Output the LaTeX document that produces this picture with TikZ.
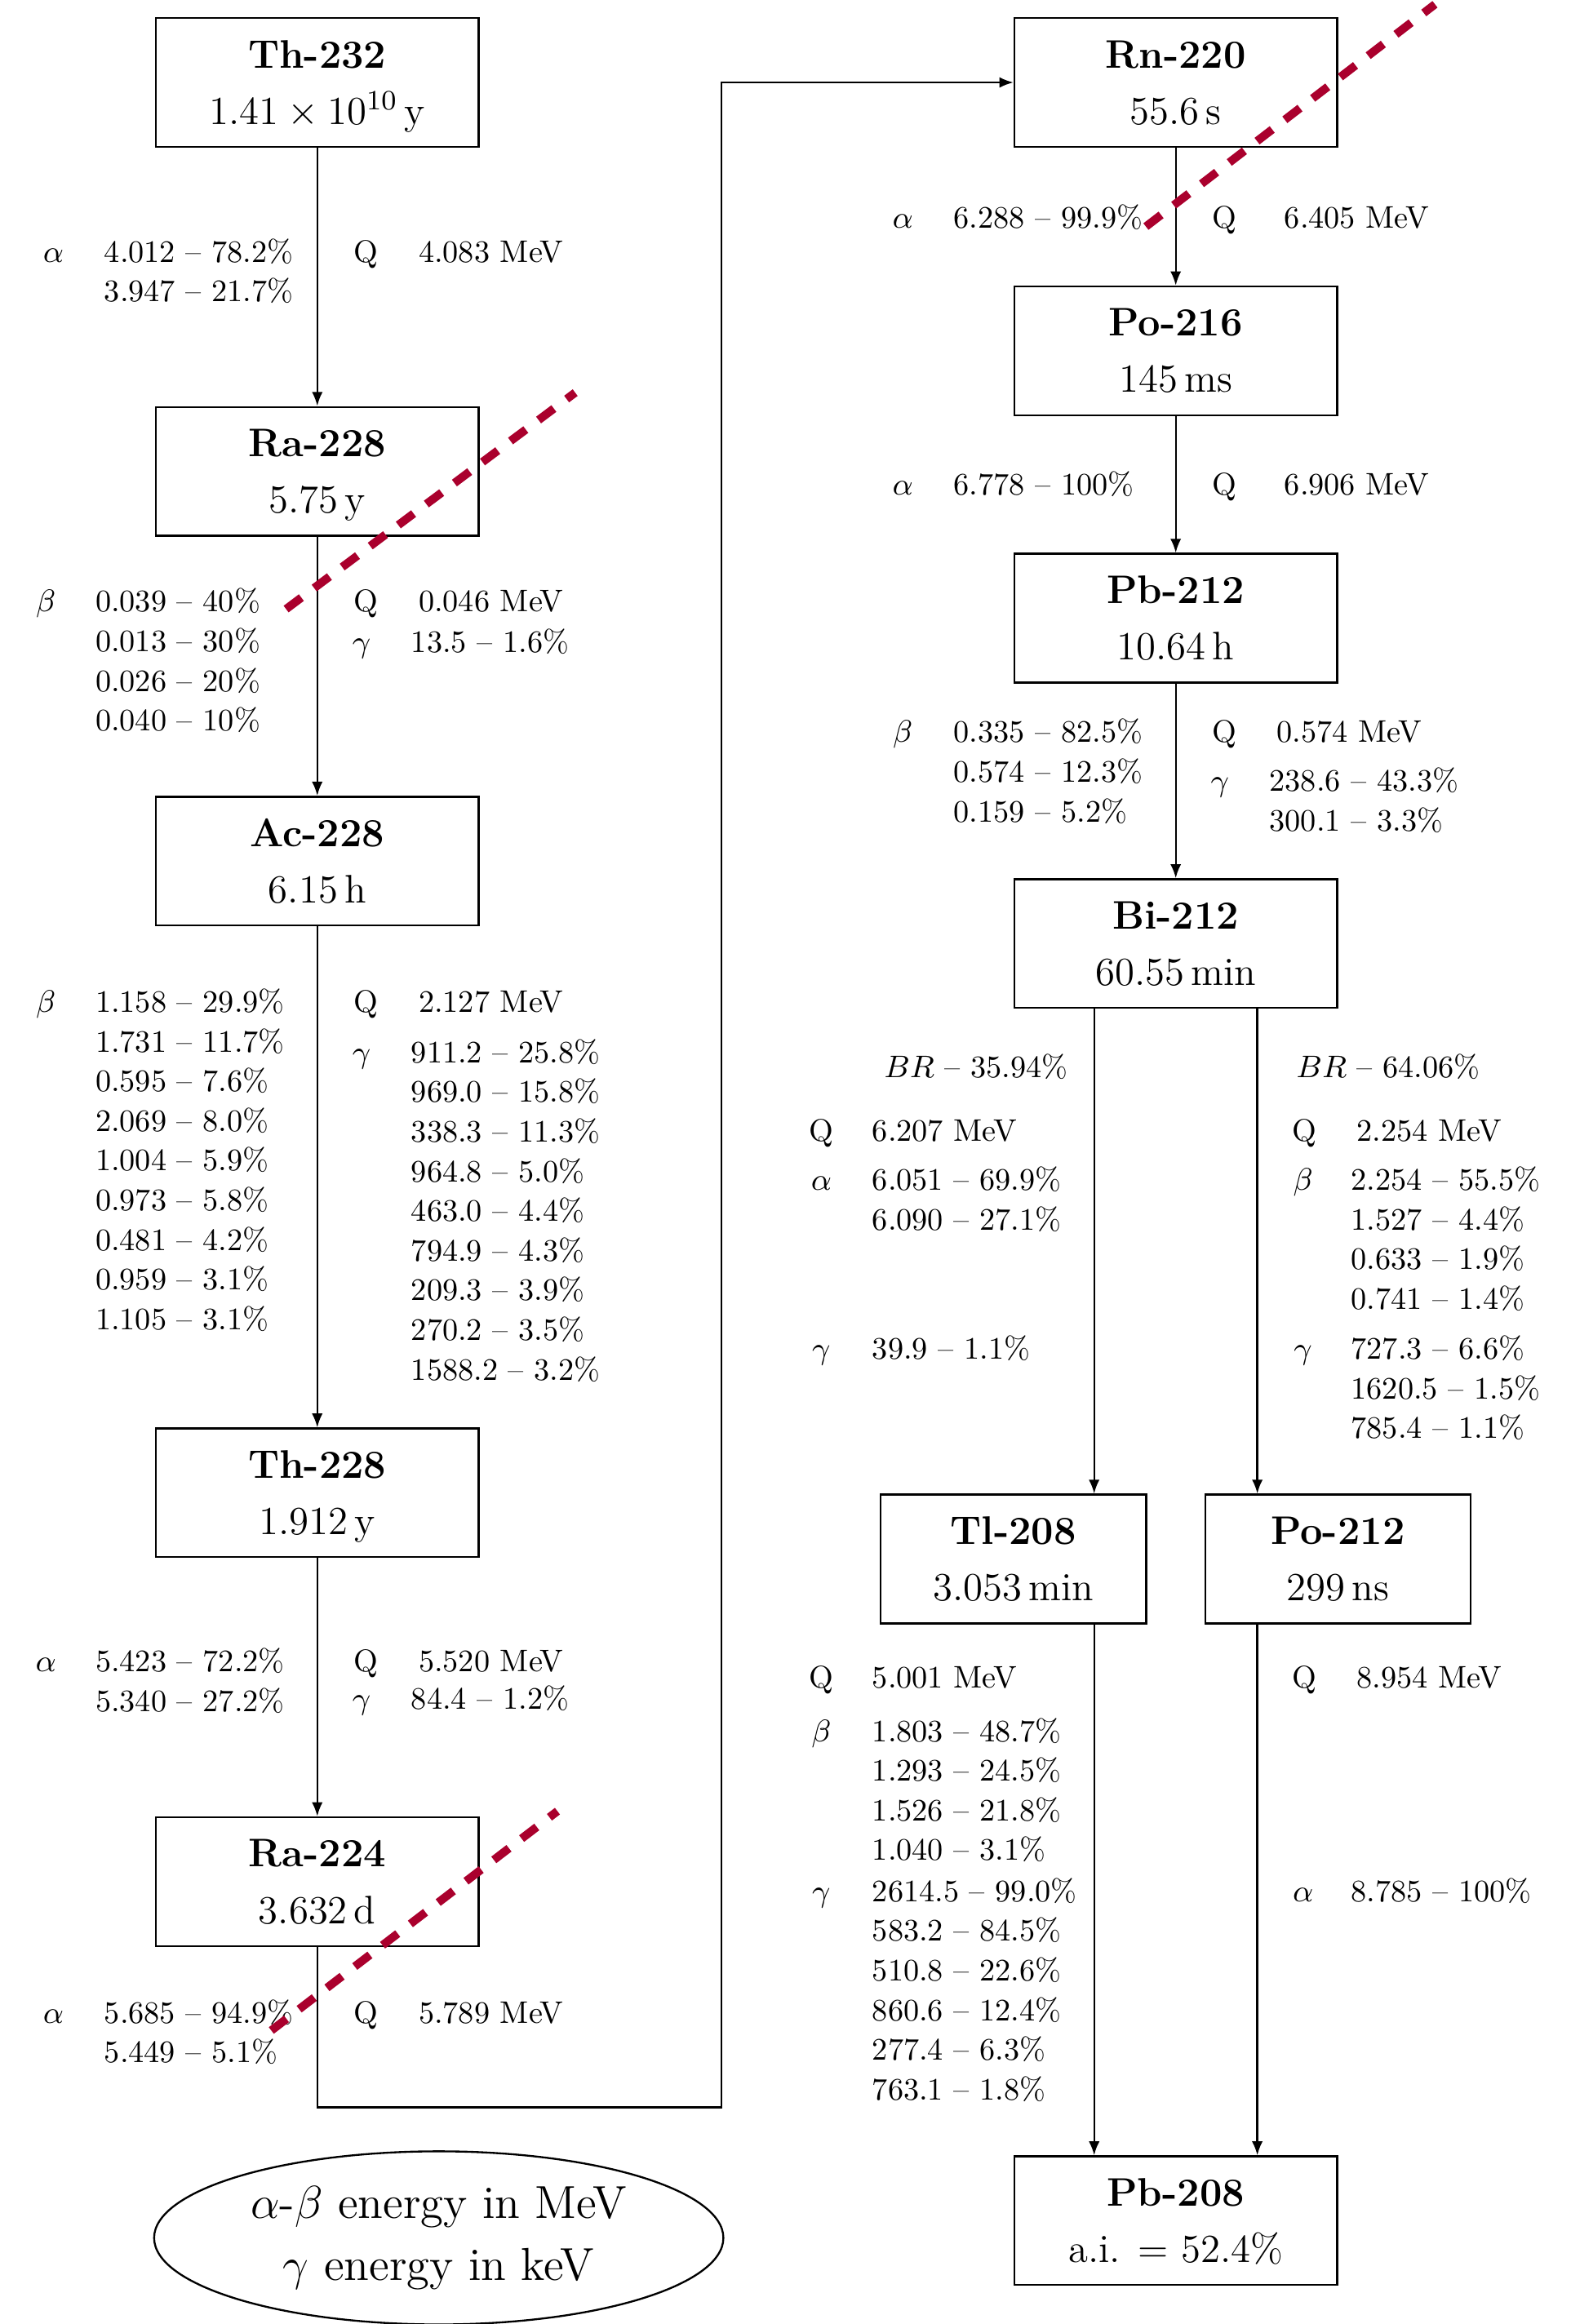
\RequirePackage{fix-cm}
\documentclass[tikz,border=0pt]{standalone}
\usepackage{fontspec}
\usepackage{amsmath}
\usetikzlibrary{positioning, calc, shapes.geometric, arrows.meta}

\definecolor{cutred}{RGB}{170,0,45}

\begin{document}
\begin{tikzpicture}[
    nuclide/.style={draw, semithick, minimum width=3.56cm, minimum height=1.42cm, align=center,
                    text height=29.2pt, text depth=3pt, font=\fontsize{12.5}{17.7}\selectfont},
    daughter/.style={nuclide, minimum width=2.93cm},
    decay/.style={semithick, -{Latex[length=4.4pt, width=3.4pt]}},
    lbl/.style={anchor=base, inner sep=0pt, font=\fontsize{9.8}{12.45}\selectfont},
    vals/.style={anchor=base west, inner sep=0pt, align=left, font=\fontsize{9.8}{12.45}\selectfont},
    rows/.style={yshift={(1-#1)*12.45pt}},
    cut/.style={cutred, line width=2.6pt, dash pattern=on 6pt off 5pt},
]
\useasboundingbox (0,0) rectangle (17.33,25.64);

% Left column: Th-232 to Ra-224
\node[nuclide] (th232) at (3.50,24.73) {\textbf{Th-232}\\$1.41\times10^{10}$\,y};
\node[nuclide] (ra228) at (3.50,20.44) {\textbf{Ra-228}\\5.75\,y};
\node[nuclide] (ac228) at (3.50,16.14) {\textbf{Ac-228}\\6.15\,h};
\node[nuclide] (th228) at (3.50,9.17) {\textbf{Th-228}\\1.912\,y};
\node[nuclide] (ra224) at (3.50,4.88) {\textbf{Ra-224}\\3.632\,d};

% Right column: Rn-220 to Pb-208
\node[nuclide] (rn220) at (12.97,24.73) {\textbf{Rn-220}\\55.6\,s};
\node[nuclide] (po216) at (12.97,21.77) {\textbf{Po-216}\\145\,ms};
\node[nuclide] (pb212) at (12.97,18.82) {\textbf{Pb-212}\\10.64\,h};
\node[nuclide] (bi212) at (12.97,15.23) {\textbf{Bi-212}\\60.55\,min};
\node[daughter] (tl208) at (11.18,8.44) {\textbf{Tl-208}\\3.053\,min};
\node[daughter] (po212) at (14.76,8.44) {\textbf{Po-212}\\299\,ns};
\node[nuclide] (pb208) at (12.97,1.14) {\textbf{Pb-208}\\a.i. $=$ 52.4\%};

% Units
\node[draw, semithick, ellipse, minimum width=6.28cm, minimum height=1.91cm, inner sep=0pt, align=center,
      font=\fontsize{14.5}{19.5}\selectfont] (units) at (4.84,0.95)
      {$\alpha$-$\beta$ energy in MeV\\$\gamma$ energy in keV};

% Decays
\draw[decay] (th232) -- (ra228);
\draw[decay] (ra228) -- (ac228);
\draw[decay] (ac228) -- (th228);
\draw[decay] (th228) -- (ra224);
\coordinate (turn) at (7.96,2.39);
\draw[decay] (ra224.south) |- (turn) |- (rn220.west);
\draw[decay] (rn220) -- (po216);
\draw[decay] (po216) -- (pb212);
\draw[decay] (pb212) -- (bi212);
\draw[decay] ([xshift=-0.9cm]bi212.south) -- ([xshift=-0.9cm]bi212.south |- tl208.north);
\draw[decay] ([xshift=0.9cm]bi212.south) -- ([xshift=0.9cm]bi212.south |- po212.north);
\draw[decay] ([xshift=-0.9cm]bi212.south |- tl208.south) -- ([xshift=-0.9cm]bi212.south |- pb208.north);
\draw[decay] ([xshift=0.9cm]bi212.south |- po212.south) -- ([xshift=0.9cm]bi212.south |- pb208.north);

% Th-232
\node[lbl] (thA) at (0.589,22.747) {$\alpha$};
\node[vals, rows=2] (thAv) at (1.145,22.747) {4.012 -- 78.2\%\\3.947 -- 21.7\%};
\node[lbl] (thQ) at (4.039,22.747) {Q};
\node[vals] (thQv) at (4.612,22.747) {4.083 MeV};

% Ra-228
\node[lbl] (raB) at (0.507,18.888) {$\beta$};
\node[vals, rows=4] (raBv) at (1.047,18.888) {0.039 -- 40\%\\0.013 -- 30\%\\0.026 -- 20\%\\0.040 -- 10\%};
\node[lbl] (raQ) at (4.039,18.888) {Q};
\node[vals] (raQv) at (4.612,18.888) {0.046 MeV};
\node[lbl] (raG) at (3.990,18.446) {$\gamma$};
\node[vals] (raGv) at (4.530,18.446) {13.5 -- 1.6\%};

% Ac-228
\node[lbl] (acB) at (0.507,14.472) {$\beta$};
\node[vals, rows=9] (acBv) at (1.047,14.472) {1.158 -- 29.9\%\\1.731 -- 11.7\%\\0.595 -- 7.6\%\\2.069 -- 8.0\%\\1.004 -- 5.9\%\\0.973 -- 5.8\%\\0.481 -- 4.2\%\\0.959 -- 3.1\%\\1.105 -- 3.1\%};
\node[lbl] (acQ) at (4.039,14.472) {Q};
\node[vals] (acQv) at (4.612,14.472) {2.127 MeV};
\node[lbl] (acG) at (3.990,13.916) {$\gamma$};
\node[vals, rows=9] (acGv) at (4.530,13.916) {911.2 -- 25.8\%\\969.0 -- 15.8\%\\338.3 -- 11.3\%\\964.8 -- 5.0\%\\463.0 -- 4.4\%\\794.9 -- 4.3\%\\209.3 -- 3.9\%\\270.2 -- 3.5\%\\1588.2 -- 3.2\%};

% Th-228
\node[lbl] (tiA) at (0.507,7.195) {$\alpha$};
\node[vals, rows=2] (tiAv) at (1.047,7.195) {5.423 -- 72.2\%\\5.340 -- 27.2\%};
\node[lbl] (tiQ) at (4.039,7.195) {Q};
\node[vals] (tiQv) at (4.612,7.195) {5.520 MeV};
\node[lbl] (tiG) at (3.990,6.787) {$\gamma$};
\node[vals] (tiGv) at (4.530,6.787) {84.4 -- 1.2\%};

% Ra-224
\node[lbl] (rbA) at (0.589,3.320) {$\alpha$};
\node[vals, rows=2] (rbAv) at (1.145,3.320) {5.685 -- 94.9\%\\5.449 -- 5.1\%};
\node[lbl] (rbQ) at (4.039,3.320) {Q};
\node[vals] (rbQv) at (4.612,3.320) {5.789 MeV};

% Rn-220
\node[lbl] (rnA) at (9.959,23.123) {$\alpha$};
\node[vals] (rnAv) at (10.515,23.123) {6.288 -- 99.9\%};
\node[lbl] (rnQ) at (13.508,23.123) {Q};
\node[vals] (rnQv) at (14.162,23.123) {6.405 MeV};

% Po-216
\node[lbl] (poA) at (9.959,20.180) {$\alpha$};
\node[vals] (poAv) at (10.515,20.180) {6.778 -- 100\%};
\node[lbl] (poQ) at (13.508,20.180) {Q};
\node[vals] (poQv) at (14.162,20.180) {6.906 MeV};

% Pb-212
\node[lbl] (pbB) at (9.959,17.449) {$\beta$};
\node[vals, rows=3] (pbBv) at (10.515,17.449) {0.335 -- 82.5\%\\0.574 -- 12.3\%\\0.159 -- 5.2\%};
\node[lbl] (pbQ) at (13.508,17.449) {Q};
\node[vals] (pbQv) at (14.080,17.449) {0.574 MeV};
\node[lbl] (pbG) at (13.458,16.909) {$\gamma$};
\node[vals, rows=2] (pbGv) at (13.998,16.909) {238.6 -- 43.3\%\\300.1 -- 3.3\%};

% Bi-212, alpha branch
\node[vals] (biLbr) at (9.746,13.753) {$BR$ -- 35.94\%};
\node[lbl] (biLQ) at (9.060,13.050) {Q};
\node[vals] (biLQv) at (9.616,13.050) {6.207 MeV};
\node[lbl] (biLA) at (9.060,12.510) {$\alpha$};
\node[vals, rows=2] (biLAv) at (9.616,12.510) {6.051 -- 69.9\%\\6.090 -- 27.1\%};
\node[lbl] (biLG) at (9.060,10.646) {$\gamma$};
\node[vals] (biLGv) at (9.616,10.646) {39.9 -- 1.1\%};

% Bi-212, beta branch
\node[vals] (biRbr) at (14.293,13.753) {$BR$ -- 64.06\%};
\node[lbl] (biRQ) at (14.391,13.050) {Q};
\node[vals] (biRQv) at (14.963,13.050) {2.254 MeV};
\node[lbl] (biRB) at (14.374,12.510) {$\beta$};
\node[vals, rows=4] (biRBv) at (14.898,12.510) {2.254 -- 55.5\%\\1.527 -- 4.4\%\\0.633 -- 1.9\%\\0.741 -- 1.4\%};
\node[lbl] (biRG) at (14.374,10.646) {$\gamma$};
\node[vals, rows=3] (biRGv) at (14.898,10.646) {727.3 -- 6.6\%\\1620.5 -- 1.5\%\\785.4 -- 1.1\%};

% Tl-208
\node[lbl] (tlQ) at (9.060,7.015) {Q};
\node[vals] (tlQv) at (9.616,7.015) {5.001 MeV};
\node[lbl] (tlB) at (9.060,6.427) {$\beta$};
\node[vals, rows=4] (tlBv) at (9.616,6.427) {1.803 -- 48.7\%\\1.293 -- 24.5\%\\1.526 -- 21.8\%\\1.040 -- 3.1\%};
\node[lbl] (tlG) at (9.060,4.661) {$\gamma$};
\node[vals, rows=6] (tlGv) at (9.616,4.661) {2614.5 -- 99.0\%\\583.2 -- 84.5\%\\510.8 -- 22.6\%\\860.6 -- 12.4\%\\277.4 -- 6.3\%\\763.1 -- 1.8\%};

% Po-212
\node[lbl] (pmQ) at (14.391,7.015) {Q};
\node[vals] (pmQv) at (14.963,7.015) {8.954 MeV};
\node[lbl] (pmA) at (14.374,4.661) {$\alpha$};
\node[vals] (pmAv) at (14.898,4.661) {8.785 -- 100\%};

% Cuts in the chain
\draw[cut] (3.156,18.920) -- (6.345,21.308);
\draw[cut] (12.641,23.140) -- (15.830,25.592);
\draw[cut] (2.993,3.238) -- (6.149,5.658);

\end{tikzpicture}
\end{document}
